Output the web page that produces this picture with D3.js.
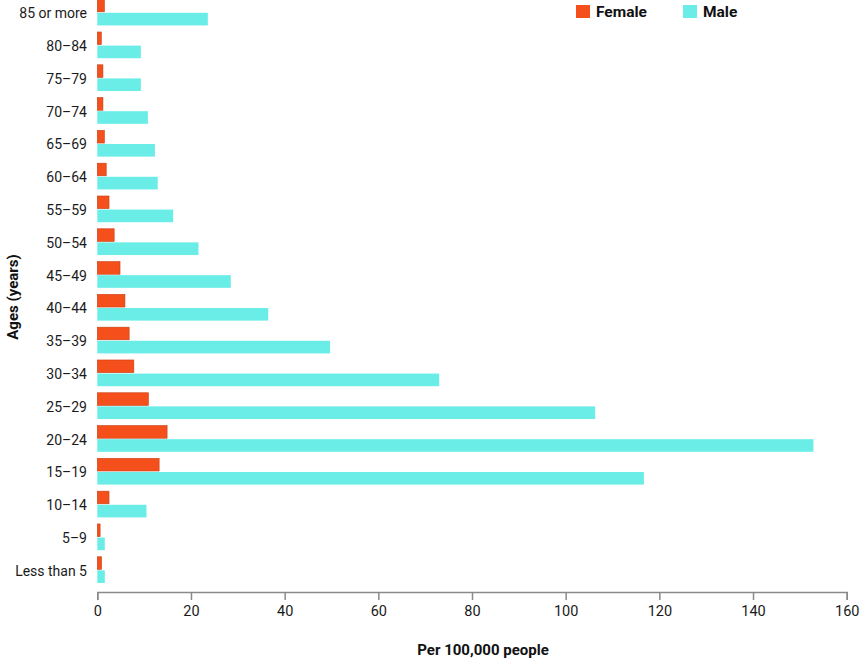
<!DOCTYPE html>
<html>
<head>
<meta charset="utf-8">
<script src="https://cdn.jsdelivr.net/npm/d3@7"></script>
<style>
  html, body { margin: 0; padding: 0; background: #fff; }
  svg { display: block; font-family: Roboto, "Noto Sans", sans-serif; }
</style>
</head>
<body>
<svg id="chart" width="860" height="660"></svg>
<script>
const ages = ['Less than 5','5–9','10–14','15–19','20–24','25–29','30–34','35–39','40–44','45–49','50–54','55–59','60–64','65–69','70–74','75–79','80–84','85 or more'];
const female = [0.9, 0.6, 2.5, 13.2, 14.9, 10.9, 7.8, 6.8, 5.9, 4.85, 3.6, 2.5, 1.9, 1.5, 1.2, 1.2, 0.85, 1.5];
const male = [1.6, 1.6, 10.5, 116.7, 152.9, 106.3, 73.0, 49.7, 36.5, 28.5, 21.6, 16.2, 12.9, 12.3, 10.8, 9.3, 9.3, 23.6];
const seriesNames = ['Female', 'Male'];
const xTicks = [0, 20, 40, 60, 80, 100, 120, 140, 160];

const colors = { Female: '#f5501c', Male: '#6aede7' };
const strokes = { Female: '#c93d12', Male: 'none' };

const svg = d3.select('#chart');
const x = d3.scaleLinear().domain([0, 160]).range([97.3, 846.7]);
const y = d3.scaleBand().domain(ages.slice().reverse()).range([-0.8, 583.0]).paddingInner(0.2).paddingOuter(0);
const sub = d3.scaleBand().domain(seriesNames).range([0, y.bandwidth()]).paddingInner(0.07);

const rows = ages.map((a, i) => ({ age: a, Female: female[i], Male: male[i] }));

const g = svg.append('g');
const groups = g.selectAll('g.row').data(rows).join('g')
  .attr('transform', d => `translate(0,${y(d.age)})`);

groups.selectAll('rect').data(d => seriesNames.map(s => ({ s, v: d[s] }))).join('rect')
  .attr('x', x(0))
  .attr('y', d => sub(d.s))
  .attr('width', d => x(d.v) - x(0))
  .attr('height', sub.bandwidth())
  .attr('fill', d => colors[d.s])
  .attr('stroke', d => strokes[d.s])
  .attr('stroke-width', 0.6);

// Y labels
g.selectAll('text.ylab').data(rows).join('text')
  .attr('class', 'ylab')
  .attr('x', 87)
  .attr('y', d => y(d.age) + y.bandwidth() / 2 + 1)
  .attr('dy', '0.35em')
  .attr('text-anchor', 'end')
  .attr('font-size', 14)
  .attr('fill', '#1a1a1a')
  .text(d => d.age);

// X axis
const xAxis = d3.axisBottom(x).tickValues(xTicks).tickSize(8).tickPadding(6).tickFormat(d3.format('d'));
const ax = svg.append('g').attr('transform', 'translate(0,592)').call(xAxis);
ax.select('.domain').attr('stroke', '#8a8a8a').attr('stroke-width', 1.5);
ax.selectAll('.tick line').attr('stroke', '#8a8a8a').attr('stroke-width', 1.5);
ax.selectAll('.tick text').attr('font-size', 14.5).attr('fill', '#1a1a1a').attr('font-family', 'Roboto, sans-serif');

// Axis titles
svg.append('text')
  .attr('x', 483).attr('y', 655)
  .attr('text-anchor', 'middle')
  .attr('font-size', 15).attr('font-weight', 'bold').attr('fill', '#111')
  .text('Per 100,000 people');

svg.append('text')
  .attr('transform', 'translate(13,297) rotate(-90)')
  .attr('text-anchor', 'middle')
  .attr('dy', '0.35em')
  .attr('font-size', 15).attr('font-weight', 'bold').attr('fill', '#111')
  .text('Ages (years)');

// Legend
const legend = [{ s: 'Female', x: 576 }, { s: 'Male', x: 683 }];
const lg = svg.selectAll('g.leg').data(legend).join('g').attr('class', 'leg')
  .attr('transform', d => `translate(${d.x},0)`);
lg.append('rect').attr('x', 0).attr('y', 5).attr('width', 14).attr('height', 13)
  .attr('fill', d => colors[d.s]);
lg.append('text').attr('x', 20).attr('y', 17)
  .attr('font-size', 15.5).attr('font-weight', 'bold').attr('fill', '#111')
  .text(d => d.s);
</script>
</body>
</html>
